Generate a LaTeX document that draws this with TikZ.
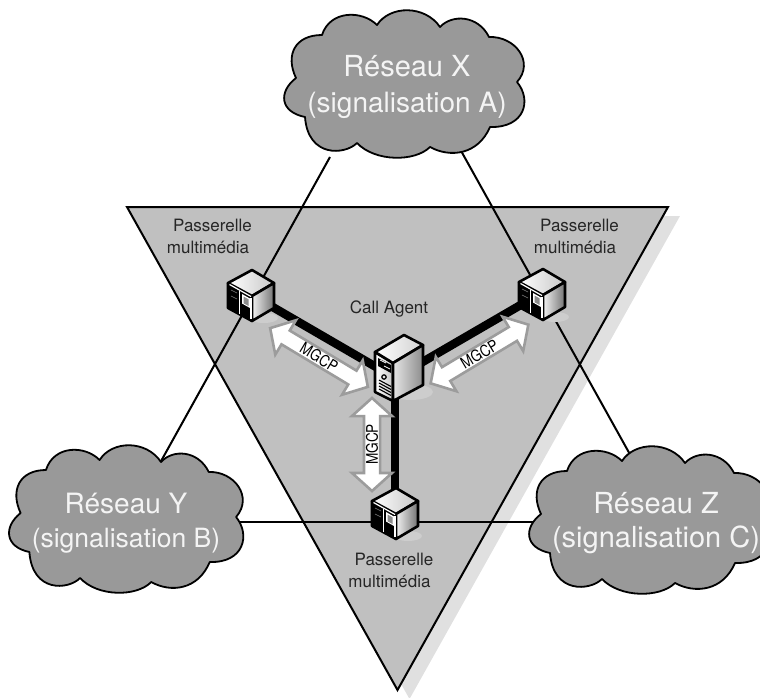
\documentclass[tikz,border=0pt]{standalone}
\usepackage{fontspec}
\setmainfont{TeX Gyre Heros}
\usetikzlibrary{shapes.arrows}
\definecolor{trifill}{HTML}{C0C0C0}
\definecolor{trishadow}{HTML}{E0E0E0}
\definecolor{cloudfill}{HTML}{999999}
\definecolor{cloudtext}{HTML}{F4F4F4}
\definecolor{arrowedge}{HTML}{9C9C9C}
\definecolor{iconshadow}{HTML}{CDCDCD}
\newcommand{\cloudshape}{(322,35)
 .. controls (330,10) and (362,10) .. (377,25)
 .. controls (390,5) and (425,5) .. (440,27)
 .. controls (452,14) and (478,15) .. (489,37)
 .. controls (515,36) and (535,62) .. (517,82)
 .. controls (532,100) and (525,128) .. (490,127)
 .. controls (478,155) and (450,158) .. (430,147)
 .. controls (415,162) and (375,162) .. (357,143)
 .. controls (345,155) and (308,158) .. (305,117)
 .. controls (280,112) and (278,92) .. (296,78)
 .. controls (285,55) and (295,35) .. (322,35) -- cycle}
\newcommand{\mgcptext}{\raisebox{-1pt}{\scalebox{.85}[1]{\fontsize{16}{16}\selectfont MGCP}}}
\newcommand{\gwlabel}{\hspace*{9pt}Passerelle\\multimédia}
\tikzset{
  x=1pt,y=-1pt,
  cloudstyle/.style={draw=black,fill=cloudfill,line width=1.8pt,line join=round},
  cloudlabel/.style={text=cloudtext,align=center,inner sep=0pt},
  smalllabel/.style={font=\fontsize{17}{22}\selectfont,text=black!85,align=center,inner sep=0pt},
  linkline/.style={draw=black,line width=2pt},
  trunk/.style={draw=black,line width=8.5pt},
  mgcparrow/.style={double arrow,draw=arrowedge,fill=white,line width=2.6pt,minimum width=38pt,
    double arrow head extend=12pt,double arrow tip angle=96,inner sep=2pt,text height=9.5pt,text depth=0pt,text=black},
  iconedge/.style={draw=black,line width=2.6pt,line join=round},
  gateway/.pic={
    \fill[iconshadow] (12,21) ellipse (14 and 5);
    \path[iconedge,fill=black] (-24,-14) -- (0,-1) -- (0,24) -- (-24,11) -- cycle;
    \path[iconedge,left color=white,right color=black!22] (0,-27) -- (-24,-14) -- (0,-1) -- (22,-14) -- cycle;
    \path[iconedge,left color=black!5,right color=black!55] (0,-1) -- (22,-14) -- (22,11) -- (0,24) -- cycle;
    \draw[white,line width=1.2pt] (-22.5,-12.5) -- (-1,-.5);
    \draw[white,line width=1.6pt] (-12.5,-6) -- (-12.5,17);
    \draw[white,line width=1.2pt] (-1,1) -- (-1,22);
    \fill[white] (-10,-3) -- (-2,1.5) -- (-2,11) -- (-10,6.5) -- cycle;
    \fill[black!45] (-8.5,-.5) -- (-3.5,2.3) -- (-3.5,9) -- (-8.5,6.2) -- cycle;
    \draw[black!50,line width=.6pt] (-21,-7) -- (-15,-4);
    \draw[black!50,line width=.6pt] (-21,-1) -- (-15,2);
  },
  agent/.pic={
    \fill[iconshadow] (18,24) ellipse (22 and 8);
    \path[iconedge,left color=white,right color=black!22] (-18,-16) -- (0,-5) -- (0,33) -- (-18,24) -- cycle;
    \path[iconedge,left color=white,right color=black!18] (11,-33) -- (-18,-16) -- (0,-5) -- (30,-23) -- cycle;
    \path[iconedge,left color=black!10,right color=black!45] (0,-5) -- (30,-23) -- (30,17) -- (0,33) -- cycle;
    \fill[black] (-15,-10) -- (-2,-3) -- (-2,5) -- (-15,-2) -- cycle;
    \draw[white,line width=.7pt] (-13,-8) -- (-7,-5) (-9,-2) -- (-3,1);
    \draw[black,line width=1.2pt] (-9,9) circle (2.2);
    \foreach \k in {0,1,2,3}{\draw[black,line width=1.1pt] (-14,12+3*\k) -- (-2,18.5+3*\k);}
  }
}
\begin{document}
\begin{tikzpicture}
\useasboundingbox (0,0) rectangle (760,698);
% inverted triangle and its shadow
\fill[trishadow] (680,216) -- (409.5,699) -- (139,216) -- cycle;
\coordinate (triL) at (127,207);
\coordinate (triR) at (668,207);
\coordinate (triB) at (397.5,690);
\path[draw=black,fill=trifill,line width=2pt,line join=miter] (triL) -- (triR) -- (triB) -- cycle;
% anchors of the links between the clouds
\coordinate (xleft) at (330,157);
\coordinate (xright) at (460,149);
\coordinate (yup) at (160,463);
\coordinate (yright) at (235,522);
\coordinate (zup) at (632,458);
\coordinate (zleft) at (538,522);
\draw[linkline] (xleft) -- (yup);
\draw[linkline] (xright) -- (zup);
\draw[linkline] (yright) -- (zleft);
% equipment positions
\coordinate (gwTL) at (252,295);
\coordinate (gwTR) at (543,292);
\coordinate (gwB) at (396,515);
\coordinate (ca) at (395,378);
\draw[trunk] (ca) -- (gwTL);
\draw[trunk] (ca) -- (gwTR);
\draw[trunk] (ca) -- (ca |- gwB);
\pic at ([shift={(0,2)}]gwTL) {gateway};
\pic at ([shift={(0,4)}]gwTR) {gateway};
\pic at (gwB) {gateway};
\pic at ([shift={(-2,-10)}]ca) {agent};
% clouds
\path[cloudstyle] \cloudshape;
\begin{scope}[shift={(-268,435)},xscale=.975]
\path[cloudstyle] \cloudshape;
\end{scope}
\begin{scope}[shift={(245,436)}]
\path[cloudstyle] \cloudshape;
\end{scope}
\node[cloudlabel,font=\fontsize{28}{36}\selectfont] (netX) at (407,87) {{\fontsize{29}{36}\selectfont Réseau X}\\(signalisation A)};
\node[cloudlabel,font=\fontsize{26.5}{34}\selectfont] (netY) at (126,523) {{\fontsize{28}{34}\selectfont Réseau Y}\\(signalisation B)};
\node[cloudlabel,font=\fontsize{29}{34}\selectfont] (netZ) at (656,523) {Réseau Z\\(signalisation C)};
% MGCP arrows
\node[mgcparrow,minimum height=114pt,rotate=-31] (arL) at (319,357.5) {\mgcptext};
\node[mgcparrow,minimum height=114pt,rotate=31] (arR) at (479.5,354) {\mgcptext};
\node[mgcparrow,minimum height=93pt,rotate=90] (arB) at (372,444.5) {\mgcptext};
% labels
\node[smalllabel] (lTL) at (208,236) {\gwlabel};
\node[smalllabel] (lTR) at (575,236) {\gwlabel};
\node[smalllabel] (lB) at (389.5,570.5) {\gwlabel};
\node[smalllabel] (lCA) at (389,309) {Call Agent};
\end{tikzpicture}
\end{document}
